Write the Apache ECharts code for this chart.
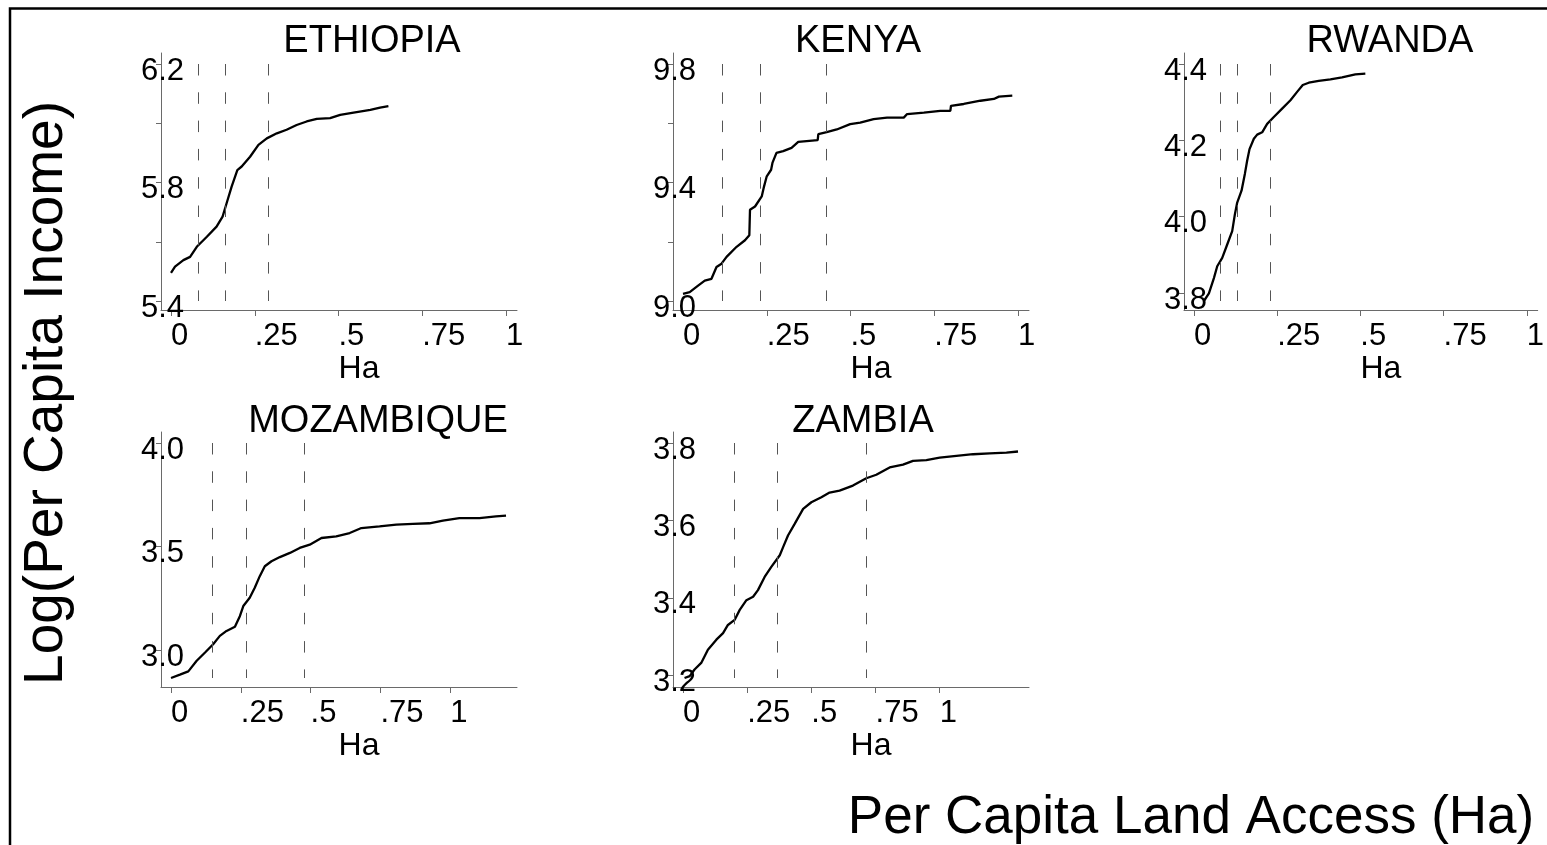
<!DOCTYPE html>
<html><head><meta charset="utf-8">
<script src="https://cdn.jsdelivr.net/npm/echarts@6/dist/echarts.min.js"></script>
<style>html,body{margin:0;padding:0;background:#fff;overflow:hidden;} #c{width:1547px;height:845px;}</style>
</head><body><div id="c"></div>
<script>
// ---------------- data ----------------
const PANEL_NAMES = ['ETHIOPIA', 'KENYA', 'RWANDA', 'MOZAMBIQUE', 'ZAMBIA'];
const X_TICKS = [0, 0.25, 0.5, 0.75, 1];
const X_NAME = 'Ha';
const Y_TITLE = 'Log(Per Capita Income)';
const X_TITLE = 'Per Capita Land Access (Ha)';

const ETHIOPIA_Y_TICKS = [5.4, 5.6, 5.8, 6.0, 6.2];
const ETHIOPIA_Y_LABELS = [5.4, 5.8, 6.2];
const ETHIOPIA_CUTS = [0.082, 0.161, 0.291];
const ETHIOPIA_HA = [0.000, 0.012, 0.037, 0.057, 0.077, 0.107, 0.136, 0.154, 0.166, 0.181, 0.198, 0.211, 0.236, 0.261, 0.286, 0.316, 0.345, 0.375, 0.405, 0.435, 0.475, 0.505, 0.545, 0.595, 0.624, 0.649];
const ETHIOPIA_LOGINC = [5.495, 5.516, 5.538, 5.549, 5.583, 5.617, 5.651, 5.685, 5.730, 5.786, 5.842, 5.854, 5.887, 5.927, 5.949, 5.966, 5.978, 5.994, 6.006, 6.015, 6.017, 6.028, 6.036, 6.045, 6.053, 6.058];

const KENYA_Y_TICKS = [9.0, 9.2, 9.4, 9.6, 9.8];
const KENYA_Y_LABELS = [9.0, 9.4, 9.8];
const KENYA_CUTS = [0.118, 0.230, 0.429];
const KENYA_HA = [0.000, 0.020, 0.045, 0.065, 0.085, 0.100, 0.115, 0.130, 0.160, 0.185, 0.198, 0.200, 0.215, 0.235, 0.242, 0.250, 0.263, 0.267, 0.279, 0.299, 0.324, 0.344, 0.369, 0.402, 0.404, 0.429, 0.459, 0.499, 0.529, 0.569, 0.609, 0.659, 0.669, 0.719, 0.768, 0.798, 0.800, 0.838, 0.888, 0.928, 0.943, 0.983];
const KENYA_LOGINC = [9.024, 9.030, 9.052, 9.069, 9.075, 9.115, 9.126, 9.149, 9.183, 9.205, 9.222, 9.308, 9.319, 9.353, 9.387, 9.421, 9.443, 9.466, 9.500, 9.506, 9.517, 9.537, 9.540, 9.543, 9.563, 9.570, 9.579, 9.597, 9.602, 9.614, 9.619, 9.619, 9.631, 9.636, 9.642, 9.642, 9.659, 9.665, 9.676, 9.682, 9.690, 9.693];

const RWANDA_Y_TICKS = [3.8, 4.0, 4.2, 4.4];
const RWANDA_Y_LABELS = [3.8, 4.0, 4.2, 4.4];
const RWANDA_CUTS = [0.078, 0.131, 0.230];
const RWANDA_HA = [0.030, 0.045, 0.060, 0.070, 0.085, 0.100, 0.115, 0.123, 0.130, 0.143, 0.153, 0.160, 0.167, 0.180, 0.190, 0.205, 0.220, 0.240, 0.265, 0.290, 0.310, 0.327, 0.345, 0.375, 0.410, 0.445, 0.485, 0.515];
const RWANDA_LOGINC = [3.779, 3.799, 3.839, 3.870, 3.892, 3.927, 3.962, 4.006, 4.037, 4.068, 4.112, 4.147, 4.177, 4.204, 4.215, 4.221, 4.243, 4.261, 4.283, 4.305, 4.327, 4.345, 4.351, 4.356, 4.360, 4.365, 4.373, 4.375];

const MOZAMBIQUE_Y_TICKS = [3.0, 3.5, 4.0];
const MOZAMBIQUE_Y_LABELS = [3.0, 3.5, 4.0];
const MOZAMBIQUE_CUTS = [0.149, 0.268, 0.479];
const MOZAMBIQUE_HA = [0.000, 0.032, 0.062, 0.092, 0.122, 0.151, 0.175, 0.199, 0.229, 0.247, 0.259, 0.282, 0.300, 0.318, 0.336, 0.360, 0.390, 0.426, 0.461, 0.497, 0.539, 0.592, 0.640, 0.682, 0.747, 0.807, 0.867, 0.926, 0.974, 1.033, 1.105, 1.164, 1.200];
const MOZAMBIQUE_LOGINC = [2.867, 2.883, 2.899, 2.950, 2.990, 3.030, 3.070, 3.094, 3.114, 3.166, 3.214, 3.254, 3.302, 3.358, 3.406, 3.430, 3.450, 3.470, 3.494, 3.510, 3.542, 3.550, 3.566, 3.590, 3.598, 3.606, 3.610, 3.613, 3.626, 3.638, 3.638, 3.646, 3.650];

const ZAMBIA_Y_TICKS = [3.2, 3.4, 3.6, 3.8];
const ZAMBIA_Y_LABELS = [3.2, 3.4, 3.6, 3.8];
const ZAMBIA_CUTS = [0.199, 0.366, 0.712];
const ZAMBIA_HA = [0.006, 0.026, 0.045, 0.071, 0.097, 0.130, 0.156, 0.175, 0.201, 0.221, 0.247, 0.273, 0.292, 0.318, 0.344, 0.377, 0.390, 0.409, 0.435, 0.468, 0.500, 0.539, 0.571, 0.610, 0.662, 0.714, 0.753, 0.805, 0.857, 0.896, 0.948, 1.000, 1.065, 1.130, 1.195, 1.260, 1.305];
const ZAMBIA_LOGINC = [3.193, 3.198, 3.215, 3.232, 3.266, 3.292, 3.309, 3.330, 3.343, 3.369, 3.394, 3.403, 3.420, 3.454, 3.480, 3.510, 3.531, 3.561, 3.591, 3.630, 3.647, 3.660, 3.672, 3.677, 3.690, 3.709, 3.718, 3.737, 3.744, 3.754, 3.756, 3.762, 3.767, 3.771, 3.773, 3.775, 3.778];

// ---------------- layout ----------------
const FONT = '"Liberation Sans", Arial, Helvetica, sans-serif';
const AXIS_COLOR = '#6a6a6a';
const GRID_LEFT = [161, 673, 1184, 161, 673];
const GRID_TOP = [53, 53, 53, 432, 432];
const GRID_W = 356;
const GRID_H = [257, 257, 257, 255, 255];
const TITLE_CX = [372, 858, 1390, 378, 863];
const TITLE_CY = [42, 42, 42, 422, 422];

const PANELS = [
  { ha: ETHIOPIA_HA, inc: ETHIOPIA_LOGINC, yt: ETHIOPIA_Y_TICKS, yl: ETHIOPIA_Y_LABELS, cuts: ETHIOPIA_CUTS },
  { ha: KENYA_HA, inc: KENYA_LOGINC, yt: KENYA_Y_TICKS, yl: KENYA_Y_LABELS, cuts: KENYA_CUTS },
  { ha: RWANDA_HA, inc: RWANDA_LOGINC, yt: RWANDA_Y_TICKS, yl: RWANDA_Y_LABELS, cuts: RWANDA_CUTS },
  { ha: MOZAMBIQUE_HA, inc: MOZAMBIQUE_LOGINC, yt: MOZAMBIQUE_Y_TICKS, yl: MOZAMBIQUE_Y_LABELS, cuts: MOZAMBIQUE_CUTS },
  { ha: ZAMBIA_HA, inc: ZAMBIA_LOGINC, yt: ZAMBIA_Y_TICKS, yl: ZAMBIA_Y_LABELS, cuts: ZAMBIA_CUTS }
];

const grids = [], xAxes = [], yAxes = [], series = [], titles = [];
const xFmt = v => (v === 0 ? '0' : (Math.abs(v - 1) < 1e-9 ? '1' : String(v).replace(/^0/, '')));

PANELS.forEach((p, i) => {
  grids.push({ left: GRID_LEFT[i], top: GRID_TOP[i], width: GRID_W, height: GRID_H[i], containLabel: false });
  const xlo = Math.min(0, Math.min(...p.ha));
  const xhi = Math.max(X_TICKS[X_TICKS.length - 1], Math.max(...p.ha));
  const xin = GRID_W - 21;
  const xs = (xhi - xlo) / xin;
  const ylo = Math.min(p.yt[0], Math.min(...p.inc));
  const yhi = Math.max(p.yt[p.yt.length - 1], Math.max(...p.inc));
  const yin = GRID_H[i] - 20;
  const ys = (yhi - ylo) / yin;

  xAxes.push({
    gridIndex: i, type: 'value', min: xlo - 10 * xs, max: xhi + 11 * xs,
    axisLine: { show: true, onZero: false, lineStyle: { color: AXIS_COLOR, width: 1 } },
    axisTick: { show: true, length: 6, customValues: X_TICKS, lineStyle: { color: AXIS_COLOR, width: 1 } },
    axisLabel: { customValues: X_TICKS, formatter: xFmt, align: 'left', margin: 11, fontSize: 31, fontFamily: FONT, color: '#000' },
    splitLine: { show: false },
    name: X_NAME, nameLocation: 'middle', nameGap: 40,
    nameTextStyle: { fontSize: 32, fontFamily: FONT, color: '#000', padding: [0, 0, 0, 40] }
  });
  yAxes.push({
    gridIndex: i, type: 'value', min: ylo - 9 * ys, max: yhi + 11 * ys,
    axisLine: { show: true, onZero: false, lineStyle: { color: AXIS_COLOR, width: 1 } },
    axisTick: { show: true, length: 5, customValues: p.yt, lineStyle: { color: AXIS_COLOR, width: 1 } },
    axisLabel: { customValues: p.yl, formatter: v => v.toFixed(1), align: 'left', verticalAlign: 'top', lineHeight: 14, margin: 20, fontSize: 31, fontFamily: FONT, color: '#000' },
    splitLine: { show: false }
  });
  series.push({
    type: 'line', xAxisIndex: i, yAxisIndex: i,
    data: p.ha.map((x, k) => [x, p.inc[k]]),
    showSymbol: false, symbol: 'none', smooth: false,
    lineStyle: { color: '#000', width: 2.3 },
    animation: false, silent: true,
    markLine: {
      silent: true, symbol: 'none', animation: false,
      label: { show: false },
      lineStyle: { color: '#555', width: 1, type: [11.5, 16.8] },
      data: p.cuts.map(c => [{ coord: [c, p.yt[p.yt.length - 1]] }, { coord: [c, ylo] }])
    }
  });
  titles.push({
    text: PANEL_NAMES[i], left: TITLE_CX[i], top: TITLE_CY[i] - 19, textAlign: 'center', padding: 0,
    textStyle: { fontSize: 38, lineHeight: 38, fontWeight: 'normal', fontFamily: FONT, color: '#000' }
  });
});

const chart = echarts.init(document.getElementById('c'), null, { renderer: 'canvas' });
chart.setOption({
  backgroundColor: '#fff',
  animation: false,
  title: titles,
  grid: grids,
  xAxis: xAxes,
  yAxis: yAxes,
  series: series,
  graphic: [
    { type: 'rect', silent: true, shape: { x: 10, y: 8.5, width: 3000, height: 3000 }, style: { fill: 'none', stroke: '#000', lineWidth: 2.5 } },
    { type: 'text', silent: true, x: 47, y: 393, rotation: Math.PI / 2,
      style: { text: Y_TITLE, fontSize: 55, fontFamily: FONT, fill: '#000', align: 'center', verticalAlign: 'middle' } },
    { type: 'text', silent: true, x: 1191, y: 818,
      style: { text: X_TITLE, fontSize: 53, fontFamily: FONT, fill: '#000', align: 'center', verticalAlign: 'middle' } }
  ]
});
</script>
</body></html>
